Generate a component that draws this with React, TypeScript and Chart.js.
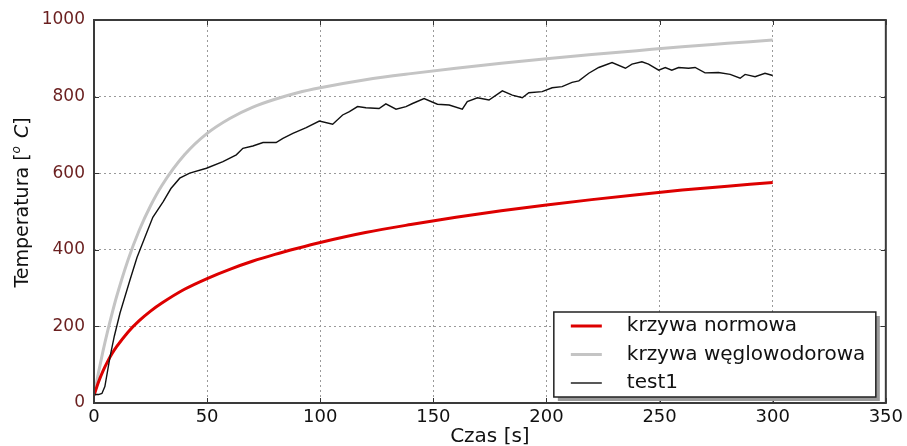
import React, { useEffect, useRef } from "react";
import { Chart, registerables } from "chart.js";

Chart.register(...registerables);

const timeStd = [0, 2, 4, 6, 8, 10, 15, 20, 25, 30, 40, 50, 60, 70, 80, 90, 100, 120, 140, 160, 180, 200, 220, 240, 260, 280, 300];
const normowa = [20, 55, 84, 108, 129, 147, 185, 215, 240, 261, 297, 325, 349, 370, 388, 404, 419, 445, 466, 485, 502, 517, 531, 544, 556, 566, 576];
const weglowodorowa = [20, 80, 136, 187, 234, 278, 373, 451, 515, 568, 648, 704, 743, 772, 793, 810, 823, 844, 860, 874, 887, 899, 910, 920, 930, 939, 948];

const timeTest = [0, 2, 3.5, 4.8, 7.1, 9, 11.5, 15.9, 19, 23.2, 26, 30.6, 34, 37.9, 42.3, 49.7, 57, 62.9, 65.8, 70.2, 74.7, 80.5, 83.5, 87.9, 93.8, 99.6, 105.5, 109.9, 112.9, 116.5, 120.2, 126, 129, 133.5, 137.9, 140.8, 145.9, 151.8, 157, 162.8, 165, 169.5, 174.6, 180.5, 184.9, 189.3, 192.2, 198.1, 202.5, 206.9, 211.3, 214.3, 218.7, 223.1, 229, 234.9, 237.8, 242.2, 245.1, 249.6, 252.5, 255.4, 258.4, 262.8, 265.7, 270.1, 276, 281.2, 285.6, 287.8, 292.2, 296.6, 300];
const test1 = [22, 22, 25, 43, 121, 175, 235, 321, 380, 443, 485, 526, 560, 587, 600, 613, 630, 648, 665, 671, 680, 680, 691, 704, 719, 736, 728, 752, 761, 774, 771, 769, 781, 767, 774, 782, 795, 780, 778, 767, 787, 797, 791, 815, 804, 797, 810, 813, 823, 826, 837, 841, 861, 876, 889, 874, 885, 891, 885, 869, 876, 869, 876, 874, 876, 862, 863, 858, 848, 858, 852, 861, 855];

const seriesLabels = ["krzywa normowa", "krzywa węglowodorowa", "test1"];
const seriesColors = ["#dd0000", "#c4c4c4", "#111111"];
const seriesWidths = [3, 3, 1.4];

const xTitle = "Czas [s]";
const FONT = "'DejaVu Sans', 'Noto Sans', sans-serif";

const framePlugin = {
  id: "framePlugin",
  afterDatasetsDraw(chart: any) {
    const { ctx, chartArea: a, scales } = chart;
    ctx.save();
    // inward ticks
    ctx.strokeStyle = "#333";
    ctx.lineWidth = 1;
    scales.x.ticks.forEach((t: any) => {
      const px = Math.round(scales.x.getPixelForValue(t.value)) + 0.5;
      ctx.beginPath();
      ctx.moveTo(px, a.bottom);
      ctx.lineTo(px, a.bottom - 5);
      ctx.moveTo(px, a.top);
      ctx.lineTo(px, a.top + 5);
      ctx.stroke();
    });
    scales.y.ticks.forEach((t: any) => {
      const py = Math.round(scales.y.getPixelForValue(t.value)) + 0.5;
      ctx.beginPath();
      ctx.moveTo(a.left, py);
      ctx.lineTo(a.left + 5, py);
      ctx.moveTo(a.right, py);
      ctx.lineTo(a.right - 5, py);
      ctx.stroke();
    });
    // frame
    ctx.strokeStyle = "#3a3a3a";
    ctx.lineWidth = 2;
    ctx.strokeRect(a.left, a.top, a.right - a.left, a.bottom - a.top);

    // legend
    const lw = 322, lh = 85;
    const lx = a.right - 10 - lw;
    const ly = a.bottom - 6 - lh;
    ctx.fillStyle = "#9a9a9a";
    ctx.fillRect(lx + 4, ly + 4, lw, lh);
    ctx.fillStyle = "#ffffff";
    ctx.fillRect(lx, ly, lw, lh);
    ctx.strokeStyle = "#222";
    ctx.lineWidth = 1.5;
    ctx.strokeRect(lx, ly, lw, lh);
    ctx.font = `20px ${FONT}`;
    ctx.textBaseline = "middle";
    ctx.textAlign = "left";
    seriesLabels.forEach((lab, i) => {
      const yy = ly + 14 + i * 28.5;
      ctx.strokeStyle = seriesColors[i];
      ctx.lineWidth = seriesWidths[i];
      ctx.beginPath();
      ctx.moveTo(lx + 17, yy);
      ctx.lineTo(lx + 48, yy);
      ctx.stroke();
      ctx.fillStyle = "#111";
      ctx.fillText(lab, lx + 73, yy);
    });

    // x title
    ctx.fillStyle = "#111";
    ctx.textAlign = "center";
    ctx.font = `20px ${FONT}`;
    ctx.fillText(xTitle, (a.left + a.right) / 2, a.bottom + 34);

    // y title with math parts
    const parts = [
      { t: "Temperatura [", f: `19px ${FONT}`, dy: 0 },
      { t: "o", f: `italic 12px ${FONT}`, dy: -6 },
      { t: " ", f: `19px ${FONT}`, dy: 0 },
      { t: "C", f: `italic 19px ${FONT}`, dy: 0 },
      { t: "]", f: `19px ${FONT}`, dy: 0 },
    ];
    let total = 0;
    const widths = parts.map((p) => {
      ctx.font = p.f;
      const w = ctx.measureText(p.t).width;
      total += w;
      return w;
    });
    ctx.translate(23, (a.top + a.bottom) / 2 - 8);
    ctx.rotate(-Math.PI / 2);
    ctx.textAlign = "left";
    let cx = -total / 2;
    parts.forEach((p, i) => {
      ctx.font = p.f;
      ctx.fillText(p.t, cx + (i === 2 ? 2 : 0), p.dy);
      cx += widths[i] + (i === 1 ? 2 : 0);
    });
    ctx.restore();
  },
};

export default function App() {
  const ref = useRef<HTMLCanvasElement | null>(null);
  useEffect(() => {
    if (!ref.current) return;
    const mk = (xs: number[], ys: number[]) => xs.map((x, i) => ({ x, y: ys[i] }));
    const chart = new Chart(ref.current, {
      type: "scatter",
      data: {
        datasets: [
          {
            label: seriesLabels[0],
            data: mk(timeStd, normowa),
            showLine: true,
            borderColor: seriesColors[0],
            borderWidth: seriesWidths[0],
            pointRadius: 0,
            cubicInterpolationMode: "monotone",
            order: 1,
          },
          {
            label: seriesLabels[1],
            data: mk(timeStd, weglowodorowa),
            showLine: true,
            borderColor: seriesColors[1],
            borderWidth: seriesWidths[1],
            pointRadius: 0,
            cubicInterpolationMode: "monotone",
            order: 2,
          },
          {
            label: seriesLabels[2],
            data: mk(timeTest, test1),
            showLine: true,
            borderColor: seriesColors[2],
            borderWidth: seriesWidths[2],
            pointRadius: 0,
            tension: 0,
            order: 0,
          },
        ],
      },
      options: {
        animation: false,
        responsive: false,
        layout: { padding: { left: 0, top: 20, right: 20, bottom: 0 } },
        plugins: { legend: { display: false }, tooltip: { enabled: false } },
        scales: {
          x: {
            type: "linear",
            min: 0,
            max: 350,
            afterFit: (s: any) => { s.height = 43; },
            ticks: { stepSize: 50, color: "#111", font: { family: FONT, size: 18 }, padding: 4, maxRotation: 0, callback: (v: any) => String(v) },
            grid: { color: "#9a9a9a", lineWidth: 1, drawTicks: false },
            border: { display: false, dash: [2, 3] },
          },
          y: {
            min: 0,
            max: 1000,
            afterFit: (s: any) => { s.width = 94; },
            ticks: { stepSize: 200, color: "#6a1f1f", font: { family: FONT, size: 17 }, padding: 9, callback: (v: any) => String(v) },
            grid: { color: "#9a9a9a", lineWidth: 1, drawTicks: false },
            border: { display: false, dash: [2, 3] },
          },
        },
      },
      plugins: [framePlugin],
    });
    return () => chart.destroy();
  }, []);
  return (
    <div style={{ position: "fixed", left: 0, top: 0, width: 907, height: 446, background: "#fff" }}>
      <canvas ref={ref} width={907} height={446} style={{ width: 907, height: 446 }} />
    </div>
  );
}
